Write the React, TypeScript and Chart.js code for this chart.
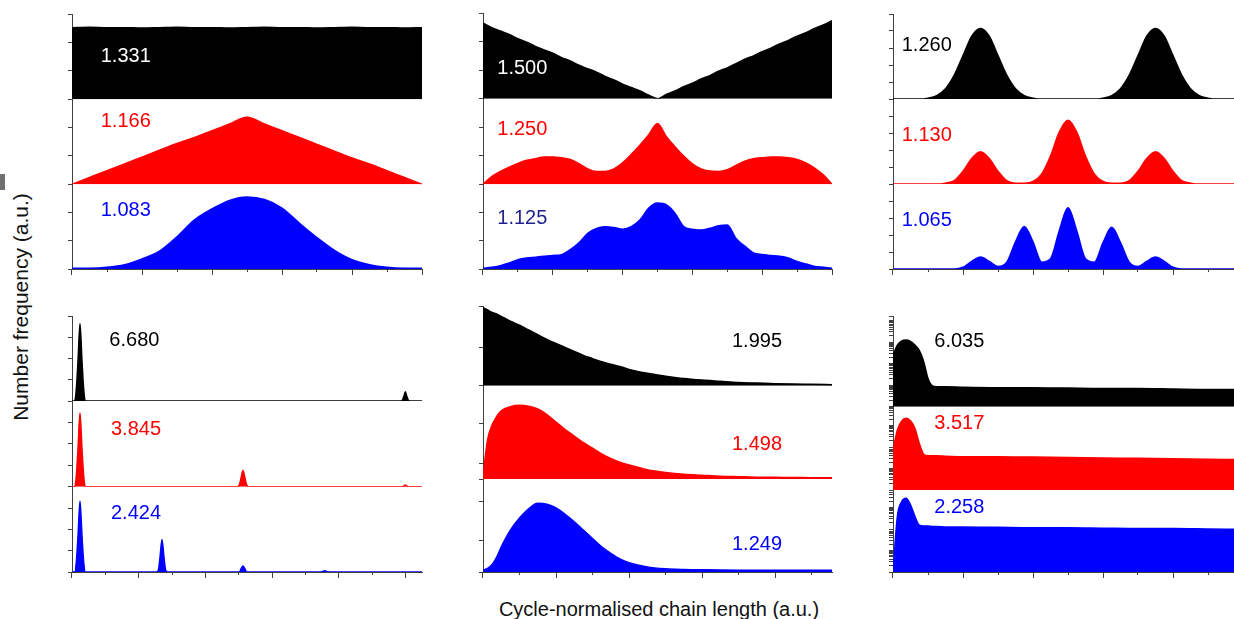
import React, { useEffect, useRef } from 'react';
import { Chart, registerables } from 'chart.js';

Chart.register(...registerables);

// ---------------- data (heights are fractions of each strip's height, a.u.) ----------------
const xTicks10 = [0, 1, 2, 3, 4, 5, 6, 7, 8, 9, 10];
const xTicks9 = [0, 1, 2, 3, 4, 5, 6, 7, 8, 9];

// top-left
const tlX = [0, 0.5, 1, 1.5, 2, 2.5, 3, 3.5, 4, 4.5, 5, 5.5, 6, 6.5, 7, 7.5, 8, 8.5, 9, 9.5, 10];
const tlBlack = [0.84, 0.845, 0.84, 0.84, 0.835, 0.84, 0.845, 0.84, 0.84, 0.835, 0.84, 0.845, 0.84, 0.84, 0.835, 0.84, 0.845, 0.84, 0.84, 0.835, 0.84];
const tlRed = [0, 0.08, 0.16, 0.24, 0.32, 0.4, 0.48, 0.55, 0.63, 0.71, 0.79, 0.71, 0.63, 0.55, 0.47, 0.39, 0.31, 0.24, 0.16, 0.08, 0];
const tlBlue = [0.01, 0.01, 0.02, 0.05, 0.12, 0.21, 0.38, 0.58, 0.71, 0.81, 0.85, 0.82, 0.72, 0.54, 0.37, 0.22, 0.11, 0.05, 0.02, 0.01, 0.01];

// top-middle and top-right share a quarter-step grid
const quarterX = [0, 0.25, 0.5, 0.75, 1, 1.25, 1.5, 1.75, 2, 2.25, 2.5, 2.75, 3, 3.25, 3.5, 3.75, 4, 4.25, 4.5, 4.75, 5, 5.25, 5.5, 5.75, 6, 6.25, 6.5, 6.75, 7, 7.25, 7.5, 7.75, 8, 8.25, 8.5, 8.75, 9, 9.25, 9.5, 9.75, 10];
const tmBlack = [0.88, 0.83, 0.79, 0.75, 0.7, 0.66, 0.61, 0.57, 0.53, 0.48, 0.44, 0.39, 0.35, 0.31, 0.26, 0.22, 0.17, 0.13, 0.09, 0.04, 0.0, 0.05, 0.09, 0.14, 0.18, 0.23, 0.27, 0.32, 0.36, 0.41, 0.46, 0.5, 0.55, 0.59, 0.64, 0.68, 0.73, 0.77, 0.82, 0.86, 0.91];
const tmRed = [0.0, 0.09, 0.15, 0.2, 0.245, 0.28, 0.3, 0.32, 0.32, 0.31, 0.29, 0.24, 0.18, 0.15, 0.15, 0.18, 0.25, 0.35, 0.46, 0.58, 0.71, 0.56, 0.44, 0.33, 0.24, 0.18, 0.155, 0.15, 0.17, 0.22, 0.27, 0.3, 0.31, 0.32, 0.32, 0.31, 0.29, 0.25, 0.19, 0.11, 0.0];
const tmBlue = [0.01, 0.02, 0.04, 0.07, 0.11, 0.13, 0.14, 0.15, 0.16, 0.17, 0.23, 0.31, 0.42, 0.48, 0.5, 0.49, 0.47, 0.5, 0.58, 0.72, 0.78, 0.76, 0.66, 0.5, 0.47, 0.46, 0.48, 0.51, 0.52, 0.36, 0.27, 0.19, 0.17, 0.16, 0.15, 0.13, 0.09, 0.06, 0.03, 0.02, 0.01];

const trBlack = [0, 0, 0, 0, 0.01, 0.04, 0.12, 0.28, 0.51, 0.74, 0.83, 0.74, 0.51, 0.28, 0.12, 0.04, 0.01, 0, 0, 0, 0, 0, 0, 0, 0.01, 0.04, 0.12, 0.28, 0.51, 0.74, 0.83, 0.74, 0.51, 0.28, 0.12, 0.04, 0.01, 0, 0, 0, 0];
const trRed = [0, 0, 0, 0, 0, 0, 0.01, 0.04, 0.15, 0.3, 0.38, 0.3, 0.15, 0.04, 0.01, 0.01, 0.03, 0.12, 0.33, 0.61, 0.75, 0.61, 0.33, 0.12, 0.03, 0.01, 0.01, 0.04, 0.15, 0.3, 0.38, 0.3, 0.15, 0.04, 0.01, 0, 0, 0, 0, 0, 0];
const trBlue = [0, 0, 0, 0, 0, 0, 0, 0, 0.02, 0.09, 0.14, 0.09, 0.03, 0.08, 0.32, 0.5, 0.32, 0.08, 0.12, 0.45, 0.72, 0.45, 0.12, 0.08, 0.31, 0.49, 0.31, 0.08, 0.03, 0.09, 0.14, 0.09, 0.02, 0, 0, 0, 0, 0, 0, 0, 0];

// bottom-left (narrow peaks)
const blX = [0, 0.08, 0.13, 0.18, 0.24, 0.3, 0.35, 0.4, 2.52, 2.59, 2.64, 2.7, 2.76, 2.81, 2.88, 4.95, 5.02, 5.07, 5.13, 5.19, 5.24, 5.31, 7.45, 7.52, 7.58, 7.64, 7.71, 9.84, 9.91, 9.96, 10.0, 10.04, 10.09, 10.16, 10.5];
const blBlack = [0, 0, 0.14, 0.47, 0.91, 0.47, 0.14, 0, 0, 0, 0, 0, 0, 0, 0, 0, 0, 0, 0, 0, 0, 0, 0, 0, 0, 0, 0, 0, 0.01, 0.06, 0.11, 0.06, 0.01, 0, 0];
const blRed = [0, 0, 0.13, 0.44, 0.86, 0.44, 0.13, 0, 0, 0, 0, 0, 0, 0, 0, 0, 0.02, 0.1, 0.19, 0.1, 0.02, 0, 0, 0, 0, 0, 0, 0, 0, 0.01, 0.02, 0.01, 0, 0, 0];
const blBlue = [0, 0, 0.12, 0.42, 0.83, 0.42, 0.12, 0, 0, 0.02, 0.17, 0.38, 0.17, 0.02, 0, 0, 0, 0.035, 0.07, 0.035, 0, 0, 0, 0.005, 0.015, 0.005, 0, 0, 0, 0, 0, 0, 0, 0, 0];

// bottom-middle
const bmX = [0, 0.125, 0.25, 0.375, 0.5, 0.75, 1, 1.25, 1.5, 1.75, 2, 2.25, 2.5, 2.75, 3, 3.25, 3.5, 3.75, 4, 4.5, 5, 5.5, 6, 6.5, 7, 7.5, 8, 8.5, 9, 9.56];
const bmBlack = [0.98, 0.95, 0.92, 0.9, 0.87, 0.81, 0.76, 0.7, 0.64, 0.58, 0.53, 0.48, 0.43, 0.38, 0.34, 0.3, 0.27, 0.24, 0.205, 0.155, 0.12, 0.09, 0.07, 0.055, 0.04, 0.033, 0.025, 0.02, 0.017, 0.013];
const bmRed = [0.03, 0.42, 0.58, 0.67, 0.73, 0.775, 0.79, 0.78, 0.75, 0.69, 0.61, 0.53, 0.46, 0.39, 0.33, 0.27, 0.22, 0.18, 0.15, 0.1, 0.07, 0.05, 0.04, 0.03, 0.025, 0.02, 0.018, 0.016, 0.014, 0.014];
const bmBlue = [0.02, 0.04, 0.08, 0.16, 0.27, 0.45, 0.58, 0.68, 0.74, 0.73, 0.69, 0.62, 0.54, 0.45, 0.36, 0.27, 0.2, 0.14, 0.1, 0.055, 0.035, 0.027, 0.023, 0.021, 0.02, 0.02, 0.02, 0.02, 0.02, 0.02];

// bottom-right
const brX = [0, 0.125, 0.25, 0.375, 0.5, 0.625, 0.75, 0.875, 1.0, 1.125, 1.25, 1.5, 2, 3, 4, 5, 6, 7, 8, 9, 10];
const brBlack = [0.57, 0.68, 0.725, 0.735, 0.72, 0.68, 0.62, 0.5, 0.31, 0.23, 0.22, 0.22, 0.215, 0.21, 0.21, 0.205, 0.2, 0.2, 0.195, 0.19, 0.19];
const brRed = [0.48, 0.72, 0.83, 0.86, 0.83, 0.74, 0.56, 0.43, 0.41, 0.41, 0.41, 0.405, 0.4, 0.4, 0.395, 0.39, 0.385, 0.38, 0.375, 0.37, 0.365];
const brBlue = [0, 0.68, 0.86, 0.9, 0.82, 0.68, 0.57, 0.56, 0.56, 0.555, 0.555, 0.55, 0.55, 0.545, 0.54, 0.54, 0.535, 0.53, 0.53, 0.525, 0.52];

// value labels (dispersity)
const tlLabels = ['1.331', '1.166', '1.083'];
const tmLabels = ['1.500', '1.250', '1.125'];
const trLabels = ['1.260', '1.130', '1.065'];
const blLabels = ['6.680', '3.845', '2.424'];
const bmLabels = ['1.995', '1.498', '1.249'];
const brLabels = ['6.035', '3.517', '2.258'];

// ---------------- styling / layout ----------------
const FONT = '"Liberation Sans", Arial, Helvetica, sans-serif';
const BLACK = '#000000';
const RED = '#ff0000';
const BLUE = '#0000ff';
const NAVY = '#1f1f8f';
const WHITE = '#ffffff';
const AXIS = '#404040';

const PAD = { left: 2, top: 3, right: 3, bottom: 2 };
const Y_TICK = 4;
const X_TICK_MAJOR = 6;
const X_TICK_MINOR = 3;

const T3 = [0, 1 / 3, 2 / 3, 1];
const T5 = [0, 0.2, 0.4, 0.6, 0.8, 1];
const T4 = [0, 0.25, 0.5, 0.75, 1];

function logTickFractions(heightPx: number, decadePx: number): number[] {
  const out: number[] = [];
  for (let base = 0; base <= heightPx + 0.01; base += decadePx) {
    out.push(base / heightPx);
    for (let k = 2; k <= 9; k++) {
      const off = base + decadePx * Math.log10(k);
      if (off <= heightPx) out.push(off / heightPx);
    }
  }
  out.push(1);
  return out;
}

type Sub = {
  values: number[];
  color: string;
  label: string;
  labelColor: string;
  labelX: number;
  labelY: number;
  ticks: number[];
  weight: number;
};

type Panel = {
  key: string;
  xs: number[];
  xMax: number;
  xTicks: number[];
  left: number;
  top: number;
  right: number;
  bottom: number;
  subs: Sub[]; // top -> bottom : black, red, blue
};

const PANELS: Panel[] = [
  {
    key: 'tl', xs: tlX, xMax: 10, xTicks: xTicks10, left: 72, top: 14, right: 422, bottom: 269,
    subs: [
      { values: tlBlack, color: BLACK, label: tlLabels[0], labelColor: WHITE, labelX: 0.82, labelY: 0.525, ticks: T3, weight: 85.3 },
      { values: tlRed, color: RED, label: tlLabels[1], labelColor: RED, labelX: 0.82, labelY: 0.762, ticks: T3, weight: 85 },
      { values: tlBlue, color: BLUE, label: tlLabels[2], labelColor: BLUE, labelX: 0.82, labelY: 0.709, ticks: T3, weight: 84.7 },
    ],
  },
  {
    key: 'tm', xs: quarterX, xMax: 10, xTicks: xTicks10, left: 483, top: 13, right: 832, bottom: 269,
    subs: [
      { values: tmBlack, color: BLACK, label: tmLabels[0], labelColor: WHITE, labelX: 0.41, labelY: 0.369, ticks: T3, weight: 85.7 },
      { values: tmRed, color: RED, label: tmLabels[1], labelColor: RED, labelX: 0.41, labelY: 0.658, ticks: T3, weight: 85.6 },
      { values: tmBlue, color: BLUE, label: tmLabels[2], labelColor: NAVY, labelX: 0.41, labelY: 0.615, ticks: T3, weight: 84.7 },
    ],
  },
  {
    key: 'tr', xs: quarterX, xMax: 10, xTicks: xTicks10, left: 893, top: 14, right: 1243, bottom: 269,
    subs: [
      { values: trBlack, color: BLACK, label: trLabels[0], labelColor: BLACK, labelX: 0.25, labelY: 0.647, ticks: T5, weight: 85 },
      { values: trRed, color: RED, label: trLabels[1], labelColor: RED, labelX: 0.25, labelY: 0.588, ticks: T5, weight: 85 },
      { values: trBlue, color: BLUE, label: trLabels[2], labelColor: BLUE, labelX: 0.25, labelY: 0.59, ticks: T5, weight: 85 },
    ],
  },
  {
    key: 'bl', xs: blX, xMax: 10.5, xTicks: xTicks10, left: 72, top: 316, right: 422, bottom: 572,
    subs: [
      { values: blBlack, color: BLACK, label: blLabels[0], labelColor: BLACK, labelX: 1.12, labelY: 0.73, ticks: T4, weight: 85 },
      { values: blRed, color: RED, label: blLabels[1], labelColor: RED, labelX: 1.17, labelY: 0.69, ticks: T4, weight: 85.7 },
      { values: blBlue, color: BLUE, label: blLabels[2], labelColor: BLUE, labelX: 1.17, labelY: 0.704, ticks: T4, weight: 85.3 },
    ],
  },
  {
    key: 'bm', xs: bmX, xMax: 9.56, xTicks: xTicks9, left: 483, top: 306, right: 832, bottom: 572,
    subs: [
      { values: bmBlack, color: BLACK, label: bmLabels[0], labelColor: BLACK, labelX: 6.82, labelY: 0.573, ticks: [0, 0.48, 1], weight: 79.7 },
      { values: bmRed, color: RED, label: bmLabels[1], labelColor: RED, labelX: 6.82, labelY: 0.386, ticks: [0, 0.17, 0.59, 1], weight: 93.3 },
      { values: bmBlue, color: BLUE, label: bmLabels[2], labelColor: BLUE, labelX: 6.82, labelY: 0.314, ticks: [0, 0.344, 0.756, 1], weight: 93 },
    ],
  },
  {
    key: 'br', xs: brX, xMax: 10, xTicks: xTicks10, left: 893, top: 316, right: 1243, bottom: 572,
    subs: [
      { values: brBlack, color: BLACK, label: brLabels[0], labelColor: BLACK, labelX: 1.18, labelY: 0.735, ticks: logTickFractions(90.7, 21.5), weight: 90.7 },
      { values: brRed, color: RED, label: brLabels[1], labelColor: RED, labelX: 1.18, labelY: 0.816, ticks: logTickFractions(83.3, 21.5), weight: 83.3 },
      { values: brBlue, color: BLUE, label: brLabels[2], labelColor: BLUE, labelX: 1.18, labelY: 0.81, ticks: logTickFractions(82, 21.5), weight: 82 },
    ],
  },
];

const Y_IDS = ['yK', 'yR', 'yB'];

function buildConfig(p: Panel): any {
  const datasets = p.subs.map((s, i) => ({
    data: p.xs.map((x, j) => ({ x, y: s.values[j] })),
    xAxisID: 'x',
    yAxisID: Y_IDS[i],
    borderColor: s.color,
    backgroundColor: s.color,
    borderWidth: 1.5,
    pointRadius: 0,
    pointHoverRadius: 0,
    fill: 'origin',
    cubicInterpolationMode: 'monotone',
  }));

  const setTicks = (vals: number[]) => (axis: any) => {
    axis.ticks = vals.map((v) => ({ value: v }));
  };

  const scales: any = {
    x: {
      type: 'linear',
      position: 'bottom',
      min: 0,
      max: p.xMax,
      afterBuildTicks: setTicks(p.xTicks),
      ticks: { display: false },
      grid: {
        drawOnChartArea: false,
        drawTicks: true,
        tickLength: X_TICK_MAJOR,
        tickWidth: 1,
        tickColor: (ctx: any) => (ctx.tick && Math.round(ctx.tick.value) % 2 === 0 ? AXIS : 'rgba(0,0,0,0)'),
      },
      border: { display: true, color: AXIS, width: 1 },
    },
    x2: {
      type: 'linear',
      axis: 'x',
      position: { yB: 0 },
      min: 0,
      max: p.xMax,
      afterBuildTicks: setTicks(p.xTicks.filter((v) => v % 2 === 1)),
      ticks: { display: false },
      grid: { drawOnChartArea: false, drawTicks: true, tickLength: X_TICK_MINOR, tickWidth: 1, tickColor: AXIS },
      border: { display: false },
    },
  };
  // define bottom strip first: the last defined left-stacked axis is placed on top
  [2, 1, 0].forEach((i) => {
    const s = p.subs[i];
    scales[Y_IDS[i]] = {
      type: 'linear',
      position: 'left',
      stack: 'strips',
      stackWeight: s.weight,
      min: 0,
      max: 1,
      afterBuildTicks: setTicks(s.ticks),
      ticks: { display: false },
      grid: { drawOnChartArea: false, drawTicks: true, tickLength: Y_TICK, tickWidth: 1, tickColor: AXIS },
      border: { display: true, color: AXIS, width: 1 },
    };
  });

  const labelPlugin = {
    id: 'stripLabels',
    afterDatasetsDraw(chart: any) {
      const ctx = chart.ctx;
      ctx.save();
      ctx.font = `20px ${FONT}`;
      ctx.textAlign = 'left';
      ctx.textBaseline = 'alphabetic';
      p.subs.forEach((s, i) => {
        const xs = chart.scales.x;
        const ys = chart.scales[Y_IDS[i]];
        ctx.fillStyle = s.labelColor;
        ctx.fillText(s.label, xs.getPixelForValue(s.labelX), ys.getPixelForValue(s.labelY) + 7);
      });
      ctx.restore();
    },
  };

  return {
    type: 'line',
    data: { datasets },
    options: {
      animation: false,
      responsive: false,
      maintainAspectRatio: false,
      events: [],
      layout: { padding: PAD },
      plugins: { legend: { display: false }, tooltip: { enabled: false }, title: { display: false } },
      scales,
    },
    plugins: [labelPlugin],
  };
}

function PanelChart({ panel }: { panel: Panel }) {
  const ref = useRef<HTMLCanvasElement | null>(null);
  const w = panel.right - panel.left + PAD.left + Y_TICK + PAD.right;
  const h = panel.bottom - panel.top + PAD.top + X_TICK_MAJOR + PAD.bottom;
  useEffect(() => {
    if (!ref.current) return;
    const chart = new Chart(ref.current, buildConfig(panel));
    return () => chart.destroy();
  }, [panel]);
  return (
    <canvas
      ref={ref}
      width={w}
      height={h}
      style={{
        position: 'absolute',
        left: panel.left - PAD.left - Y_TICK,
        top: panel.top - PAD.top,
        width: w,
        height: h,
      }}
    />
  );
}

export default function App() {
  return (
    <div
      style={{
        position: 'fixed',
        left: 0,
        top: 0,
        width: 1234,
        height: 619,
        overflow: 'hidden',
        background: '#ffffff',
        fontFamily: FONT,
      }}
    >
      {PANELS.map((p) => (
        <PanelChart key={p.key} panel={p} />
      ))}
      <div style={{ position: 'absolute', left: 0, top: 174, width: 5, height: 16, background: '#707070' }} />
      <div
        style={{
          position: 'absolute',
          left: 20.5,
          top: 307,
          transform: 'translate(-50%, -50%) rotate(-90deg)',
          whiteSpace: 'nowrap',
          fontSize: 21,
          lineHeight: '24px',
          color: '#111111',
        }}
      >
        Number frequency (a.u.)
      </div>
      <div
        style={{
          position: 'absolute',
          left: 659,
          top: 609,
          transform: 'translate(-50%, -50%)',
          whiteSpace: 'nowrap',
          fontSize: 20,
          lineHeight: '22px',
          color: '#111111',
        }}
      >
        Cycle-normalised chain length (a.u.)
      </div>
    </div>
  );
}
